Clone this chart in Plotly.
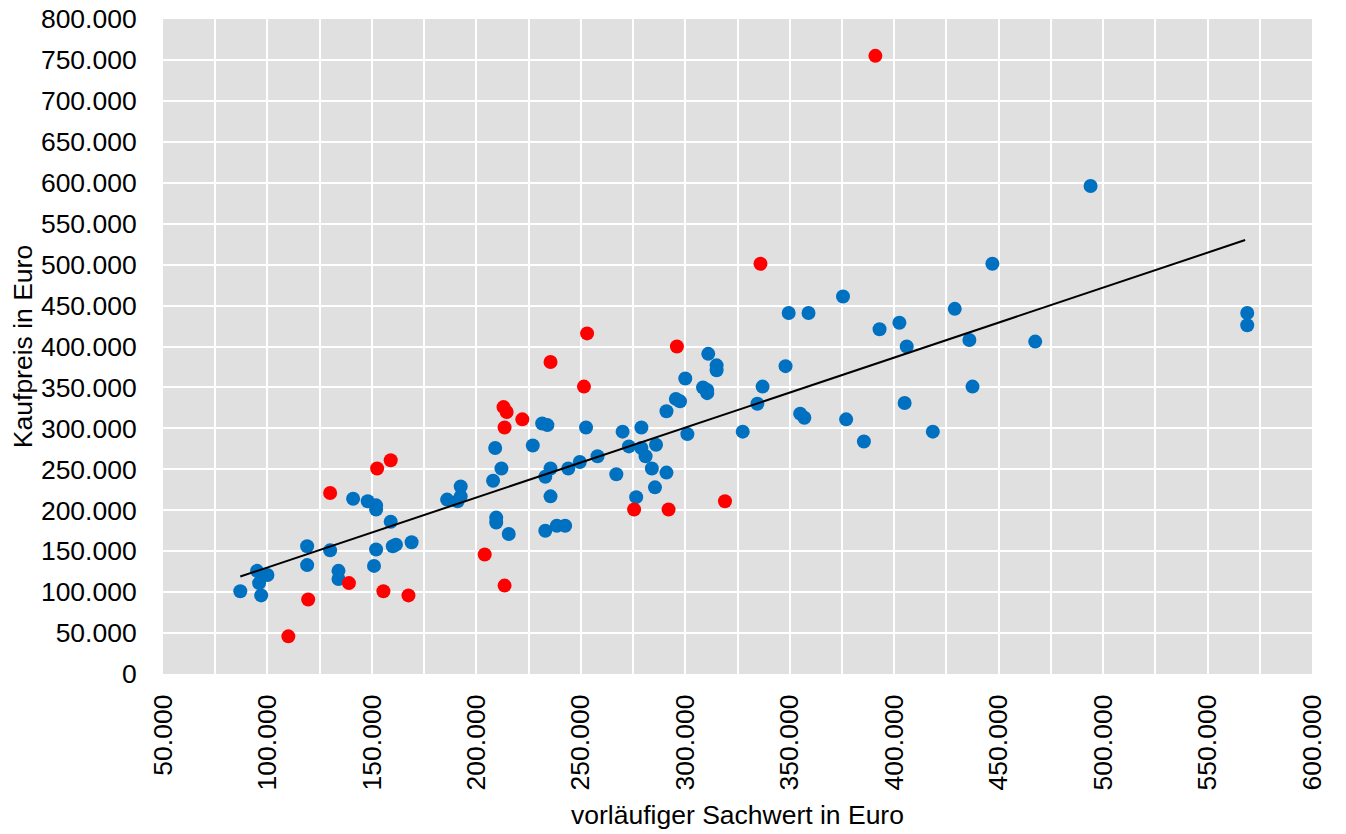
"""Kaufpreis vs. vorläufiger Sachwert — scatter with trendline."""
import plotly.graph_objects as go

# blue points (Euro)
blue_x = [87000, 95000, 96000, 97000, 100000, 119000, 119000, 130000, 134000, 134000,
          141000, 148000, 152000, 152000, 151000, 152000, 159000, 160000, 161500, 169000,
          186000, 191000, 192500, 192500, 209000, 208000, 209500, 209500, 212000, 215500,
          227000, 231500, 234000, 233000, 235500, 235500, 233000, 238500, 242500, 244000,
          249500, 252500, 258000, 267000, 270000, 273000, 279000, 279000, 281000, 286000,
          284000, 285500, 276500, 291000, 291000, 295500, 297500, 300000, 301000, 308500,
          311000, 310500, 310500, 315000, 315000, 327500, 334500, 337000, 348000, 349500,
          359000, 355000, 357000, 375500, 377000, 385500, 393000, 402500, 406000, 405000,
          418500, 429000, 436000, 437500, 447000, 467500, 494000, 569000, 569000]
blue_y = [101000, 126000, 111000, 96000, 121000, 156000, 133000, 151000, 126000, 116000,
          214000, 211000, 206000, 201000, 132000, 152000, 186000, 156000, 158000, 161000,
          213000, 211000, 229000, 217000, 276000, 236000, 191000, 185000, 251000, 171000,
          279000, 306000, 304000, 241000, 251000, 217000, 175000, 181000, 181000, 251000,
          259000, 301000, 266000, 244000, 296000, 278000, 301000, 276000, 266000, 280000,
          251000, 228000, 216000, 246000, 321000, 336000, 333000, 361000, 293000, 350000,
          391000, 343000, 347000, 377000, 371000, 296000, 330000, 351000, 376000, 441000,
          441000, 318000, 313000, 461000, 311000, 284000, 421000, 429000, 400000, 331000,
          296000, 446000, 408000, 351000, 501000, 406000, 596000, 441000, 426000]

# red points (Euro)
red_x = [110000, 119500, 130000, 139000, 152500, 155500, 159000, 167500, 204000, 213500,
         213000, 214500, 213500, 222000, 235500, 251500, 253000, 275500, 292000, 296000,
         319000, 336000, 391000]
red_y = [46000, 91000, 221000, 111000, 251000, 101000, 261000, 96000, 146000, 108000,
         326000, 320000, 301000, 311000, 381000, 351000, 416000, 201000, 201000, 400000,
         211000, 501000, 755000]

# linear trendline, end points
trend_x = [87000, 568000]
trend_y = [119000, 530000]

BLUE = "#0070C0"
RED = "#FF0000"
FONT = "Liberation Sans, Arial, sans-serif"

fig = go.Figure()
fig.add_trace(go.Scatter(x=blue_x, y=blue_y, mode="markers",
                         marker=dict(color=BLUE, size=14, line=dict(width=0))))
fig.add_trace(go.Scatter(x=red_x, y=red_y, mode="markers",
                         marker=dict(color=RED, size=14, line=dict(width=0))))
fig.add_trace(go.Scatter(x=trend_x, y=trend_y, mode="lines",
                         line=dict(color="black", width=2)))

# the page body keeps its default 8px margin, so the figure is 8px smaller
fig.update_layout(
    width=1338, height=826,
    margin=dict(l=155, r=34, t=11, b=160),
    paper_bgcolor="white",
    plot_bgcolor="#E0E0E0",
    showlegend=False,
    separators=",.",
    font=dict(family=FONT, size=26.5, color="black"),
)
fig.update_xaxes(
    range=[50000, 600000], dtick=50000, tick0=50000,
    tickformat=",d", tickangle=-90, automargin=False,
    showgrid=True, gridcolor="white", gridwidth=2,
    minor=dict(dtick=25000, showgrid=True, gridcolor="white", gridwidth=2),
    zeroline=False, showline=False, ticklabeloverflow="allow",
    ticks="outside", ticklen=9, tickcolor="rgba(0,0,0,0)",
    title=dict(text="vorläufiger Sachwert in Euro", font=dict(size=26.5), standoff=16),
)
fig.update_yaxes(
    range=[0, 800000], dtick=50000, tickformat=",d", automargin=False,
    showgrid=True, gridcolor="white", gridwidth=2,
    zeroline=False, showline=False, ticklabeloverflow="allow",
    ticks="outside", ticklen=20, tickcolor="rgba(0,0,0,0)",
    title=dict(text="Kaufpreis in Euro", font=dict(size=26.5), standoff=4),
)

fig.write_html("out.html")
